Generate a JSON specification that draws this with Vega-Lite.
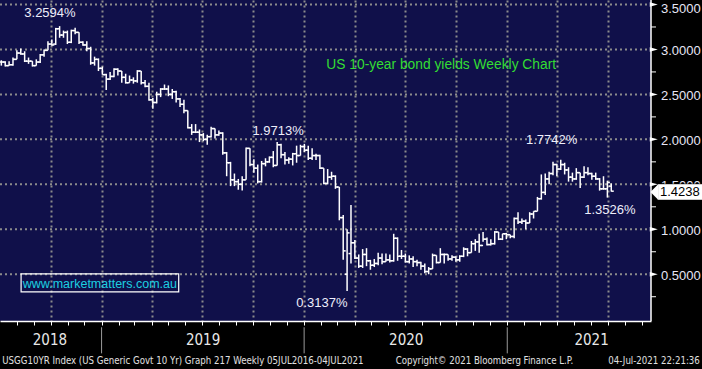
{
"$schema": "https://vega.github.io/schema/vega-lite/v6.json",
"width": 651, "height": 321,
"autosize": {"type": "none"},
"padding": {"left": 0, "top": 0, "right": 51, "bottom": 48},
"background": "#000000",
"view": {"fill": "#10104a", "stroke": null},
"datasets": {
"ohlc": [
{"d":"2018-06-29","o":2.86,"h":2.88,"l":2.82,"c":2.86},
{"d":"2018-07-06","o":2.86,"h":2.87,"l":2.81,"c":2.82},
{"d":"2018-07-13","o":2.82,"h":2.87,"l":2.82,"c":2.83},
{"d":"2018-07-20","o":2.83,"h":2.91,"l":2.82,"c":2.89},
{"d":"2018-07-27","o":2.89,"h":2.99,"l":2.89,"c":2.96},
{"d":"2018-08-03","o":2.96,"h":3.01,"l":2.94,"c":2.95},
{"d":"2018-08-10","o":2.95,"h":2.98,"l":2.86,"c":2.87},
{"d":"2018-08-17","o":2.87,"h":2.91,"l":2.84,"c":2.87},
{"d":"2018-08-24","o":2.87,"h":2.87,"l":2.81,"c":2.82},
{"d":"2018-08-31","o":2.82,"h":2.89,"l":2.82,"c":2.86},
{"d":"2018-09-07","o":2.86,"h":2.95,"l":2.85,"c":2.94},
{"d":"2018-09-14","o":2.94,"h":3.00,"l":2.92,"c":2.99},
{"d":"2018-09-21","o":2.99,"h":3.09,"l":2.99,"c":3.06},
{"d":"2018-09-28","o":3.06,"h":3.11,"l":3.04,"c":3.05},
{"d":"2018-10-05","o":3.06,"h":3.24,"l":3.05,"c":3.23},
{"d":"2018-10-12","o":3.23,"h":3.2594,"l":3.13,"c":3.16},
{"d":"2018-10-19","o":3.16,"h":3.21,"l":3.13,"c":3.19},
{"d":"2018-10-26","o":3.19,"h":3.21,"l":3.06,"c":3.08},
{"d":"2018-11-02","o":3.08,"h":3.22,"l":3.07,"c":3.21},
{"d":"2018-11-09","o":3.21,"h":3.24,"l":3.17,"c":3.19},
{"d":"2018-11-16","o":3.19,"h":3.19,"l":3.06,"c":3.08},
{"d":"2018-11-23","o":3.08,"h":3.09,"l":3.04,"c":3.05},
{"d":"2018-11-30","o":3.05,"h":3.09,"l":2.98,"c":3.01},
{"d":"2018-12-07","o":3.01,"h":3.03,"l":2.83,"c":2.85},
{"d":"2018-12-14","o":2.85,"h":2.92,"l":2.82,"c":2.89},
{"d":"2018-12-21","o":2.89,"h":2.90,"l":2.76,"c":2.79},
{"d":"2018-12-28","o":2.79,"h":2.81,"l":2.72,"c":2.72},
{"d":"2019-01-04","o":2.72,"h":2.73,"l":2.55,"c":2.67},
{"d":"2019-01-11","o":2.67,"h":2.75,"l":2.66,"c":2.70},
{"d":"2019-01-18","o":2.70,"h":2.79,"l":2.69,"c":2.78},
{"d":"2019-01-25","o":2.78,"h":2.79,"l":2.71,"c":2.76},
{"d":"2019-02-01","o":2.76,"h":2.76,"l":2.63,"c":2.69},
{"d":"2019-02-08","o":2.69,"h":2.73,"l":2.62,"c":2.63},
{"d":"2019-02-15","o":2.63,"h":2.71,"l":2.63,"c":2.66},
{"d":"2019-02-22","o":2.66,"h":2.69,"l":2.62,"c":2.65},
{"d":"2019-03-01","o":2.65,"h":2.77,"l":2.63,"c":2.76},
{"d":"2019-03-08","o":2.76,"h":2.76,"l":2.61,"c":2.63},
{"d":"2019-03-15","o":2.63,"h":2.66,"l":2.58,"c":2.59},
{"d":"2019-03-22","o":2.59,"h":2.63,"l":2.43,"c":2.44},
{"d":"2019-03-29","o":2.44,"h":2.46,"l":2.34,"c":2.41},
{"d":"2019-04-05","o":2.41,"h":2.53,"l":2.40,"c":2.50},
{"d":"2019-04-12","o":2.50,"h":2.57,"l":2.47,"c":2.56},
{"d":"2019-04-19","o":2.56,"h":2.61,"l":2.55,"c":2.56},
{"d":"2019-04-26","o":2.56,"h":2.60,"l":2.48,"c":2.50},
{"d":"2019-05-03","o":2.50,"h":2.56,"l":2.45,"c":2.53},
{"d":"2019-05-10","o":2.53,"h":2.54,"l":2.41,"c":2.45},
{"d":"2019-05-17","o":2.45,"h":2.46,"l":2.36,"c":2.39},
{"d":"2019-05-24","o":2.39,"h":2.44,"l":2.29,"c":2.32},
{"d":"2019-05-31","o":2.32,"h":2.32,"l":2.12,"c":2.13},
{"d":"2019-06-07","o":2.13,"h":2.17,"l":2.05,"c":2.08},
{"d":"2019-06-14","o":2.08,"h":2.17,"l":2.07,"c":2.08},
{"d":"2019-06-21","o":2.08,"h":2.11,"l":1.97,"c":2.05},
{"d":"2019-06-28","o":2.05,"h":2.07,"l":1.98,"c":2.00},
{"d":"2019-07-05","o":2.00,"h":2.05,"l":1.94,"c":2.03},
{"d":"2019-07-12","o":2.03,"h":2.14,"l":2.02,"c":2.12},
{"d":"2019-07-19","o":2.12,"h":2.12,"l":2.01,"c":2.05},
{"d":"2019-07-26","o":2.05,"h":2.10,"l":2.04,"c":2.07},
{"d":"2019-08-02","o":2.07,"h":2.08,"l":1.83,"c":1.85},
{"d":"2019-08-09","o":1.85,"h":1.86,"l":1.59,"c":1.74},
{"d":"2019-08-16","o":1.74,"h":1.75,"l":1.48,"c":1.55},
{"d":"2019-08-23","o":1.55,"h":1.62,"l":1.48,"c":1.53},
{"d":"2019-08-30","o":1.53,"h":1.56,"l":1.44,"c":1.50},
{"d":"2019-09-06","o":1.50,"h":1.59,"l":1.43,"c":1.55},
{"d":"2019-09-13","o":1.55,"h":1.91,"l":1.55,"c":1.90},
{"d":"2019-09-20","o":1.90,"h":1.90,"l":1.70,"c":1.72},
{"d":"2019-09-27","o":1.72,"h":1.78,"l":1.63,"c":1.68},
{"d":"2019-10-04","o":1.68,"h":1.72,"l":1.51,"c":1.53},
{"d":"2019-10-11","o":1.53,"h":1.76,"l":1.52,"c":1.73},
{"d":"2019-10-18","o":1.73,"h":1.79,"l":1.70,"c":1.75},
{"d":"2019-10-25","o":1.75,"h":1.81,"l":1.74,"c":1.80},
{"d":"2019-11-01","o":1.80,"h":1.87,"l":1.69,"c":1.71},
{"d":"2019-11-08","o":1.71,"h":1.9713,"l":1.71,"c":1.94},
{"d":"2019-11-15","o":1.94,"h":1.95,"l":1.79,"c":1.83},
{"d":"2019-11-22","o":1.83,"h":1.86,"l":1.72,"c":1.77},
{"d":"2019-11-29","o":1.77,"h":1.80,"l":1.73,"c":1.78},
{"d":"2019-12-06","o":1.78,"h":1.85,"l":1.71,"c":1.84},
{"d":"2019-12-13","o":1.84,"h":1.93,"l":1.74,"c":1.82},
{"d":"2019-12-20","o":1.82,"h":1.94,"l":1.82,"c":1.92},
{"d":"2019-12-27","o":1.92,"h":1.95,"l":1.86,"c":1.88},
{"d":"2020-01-03","o":1.88,"h":1.93,"l":1.77,"c":1.79},
{"d":"2020-01-10","o":1.79,"h":1.90,"l":1.77,"c":1.82},
{"d":"2020-01-17","o":1.82,"h":1.84,"l":1.77,"c":1.82},
{"d":"2020-01-24","o":1.82,"h":1.83,"l":1.67,"c":1.68},
{"d":"2020-01-31","o":1.68,"h":1.68,"l":1.50,"c":1.51},
{"d":"2020-02-07","o":1.51,"h":1.67,"l":1.50,"c":1.58},
{"d":"2020-02-14","o":1.58,"h":1.64,"l":1.55,"c":1.59},
{"d":"2020-02-21","o":1.59,"h":1.60,"l":1.45,"c":1.47},
{"d":"2020-02-28","o":1.47,"h":1.47,"l":1.10,"c":1.13},
{"d":"2020-03-06","o":1.13,"h":1.16,"l":0.66,"c":0.76},
{"d":"2020-03-13","o":0.50,"h":1.00,"l":0.3137,"c":0.96},
{"d":"2020-03-20","o":0.73,"h":1.27,"l":0.62,"c":0.85},
{"d":"2020-03-27","o":0.85,"h":0.88,"l":0.67,"c":0.68},
{"d":"2020-04-03","o":0.68,"h":0.72,"l":0.57,"c":0.59},
{"d":"2020-04-10","o":0.59,"h":0.78,"l":0.57,"c":0.72},
{"d":"2020-04-17","o":0.72,"h":0.79,"l":0.59,"c":0.65},
{"d":"2020-04-24","o":0.65,"h":0.66,"l":0.55,"c":0.60},
{"d":"2020-05-01","o":0.60,"h":0.67,"l":0.58,"c":0.62},
{"d":"2020-05-08","o":0.62,"h":0.74,"l":0.60,"c":0.68},
{"d":"2020-05-15","o":0.68,"h":0.73,"l":0.61,"c":0.64},
{"d":"2020-05-22","o":0.64,"h":0.73,"l":0.64,"c":0.66},
{"d":"2020-05-29","o":0.66,"h":0.72,"l":0.63,"c":0.65},
{"d":"2020-06-05","o":0.65,"h":0.95,"l":0.64,"c":0.90},
{"d":"2020-06-12","o":0.90,"h":0.91,"l":0.65,"c":0.70},
{"d":"2020-06-19","o":0.70,"h":0.77,"l":0.67,"c":0.70},
{"d":"2020-06-26","o":0.70,"h":0.73,"l":0.63,"c":0.64},
{"d":"2020-07-03","o":0.64,"h":0.71,"l":0.62,"c":0.67},
{"d":"2020-07-10","o":0.67,"h":0.70,"l":0.58,"c":0.64},
{"d":"2020-07-17","o":0.64,"h":0.66,"l":0.59,"c":0.63},
{"d":"2020-07-24","o":0.63,"h":0.64,"l":0.55,"c":0.59},
{"d":"2020-07-31","o":0.59,"h":0.62,"l":0.51,"c":0.53},
{"d":"2020-08-07","o":0.53,"h":0.58,"l":0.50,"c":0.56},
{"d":"2020-08-14","o":0.56,"h":0.73,"l":0.56,"c":0.71},
{"d":"2020-08-21","o":0.71,"h":0.71,"l":0.62,"c":0.63},
{"d":"2020-08-28","o":0.63,"h":0.79,"l":0.63,"c":0.72},
{"d":"2020-09-04","o":0.72,"h":0.73,"l":0.62,"c":0.72},
{"d":"2020-09-11","o":0.72,"h":0.72,"l":0.65,"c":0.67},
{"d":"2020-09-18","o":0.67,"h":0.71,"l":0.65,"c":0.69},
{"d":"2020-09-25","o":0.69,"h":0.70,"l":0.64,"c":0.66},
{"d":"2020-10-02","o":0.66,"h":0.71,"l":0.64,"c":0.70},
{"d":"2020-10-09","o":0.70,"h":0.80,"l":0.69,"c":0.78},
{"d":"2020-10-16","o":0.78,"h":0.79,"l":0.70,"c":0.74},
{"d":"2020-10-23","o":0.74,"h":0.87,"l":0.74,"c":0.84},
{"d":"2020-10-30","o":0.84,"h":0.89,"l":0.76,"c":0.86},
{"d":"2020-11-06","o":0.86,"h":0.95,"l":0.74,"c":0.82},
{"d":"2020-11-13","o":0.82,"h":0.97,"l":0.86,"c":0.89},
{"d":"2020-11-20","o":0.89,"h":0.91,"l":0.82,"c":0.83},
{"d":"2020-11-27","o":0.83,"h":0.89,"l":0.82,"c":0.84},
{"d":"2020-12-04","o":0.84,"h":0.98,"l":0.83,"c":0.97},
{"d":"2020-12-11","o":0.97,"h":0.97,"l":0.88,"c":0.89},
{"d":"2020-12-18","o":0.89,"h":0.95,"l":0.88,"c":0.95},
{"d":"2020-12-25","o":0.95,"h":0.96,"l":0.89,"c":0.94},
{"d":"2021-01-01","o":0.94,"h":0.94,"l":0.90,"c":0.92},
{"d":"2021-01-08","o":0.92,"h":1.13,"l":0.90,"c":1.12},
{"d":"2021-01-15","o":1.12,"h":1.19,"l":1.06,"c":1.08},
{"d":"2021-01-22","o":1.08,"h":1.12,"l":1.06,"c":1.09},
{"d":"2021-01-29","o":1.09,"h":1.11,"l":1.00,"c":1.07},
{"d":"2021-02-05","o":1.07,"h":1.19,"l":1.07,"c":1.17},
{"d":"2021-02-12","o":1.17,"h":1.20,"l":1.12,"c":1.20},
{"d":"2021-02-19","o":1.20,"h":1.36,"l":1.20,"c":1.34},
{"d":"2021-02-26","o":1.34,"h":1.61,"l":1.33,"c":1.41},
{"d":"2021-03-05","o":1.41,"h":1.62,"l":1.38,"c":1.56},
{"d":"2021-03-12","o":1.56,"h":1.64,"l":1.50,"c":1.62},
{"d":"2021-03-19","o":1.62,"h":1.75,"l":1.60,"c":1.72},
{"d":"2021-03-26","o":1.72,"h":1.73,"l":1.59,"c":1.67},
{"d":"2021-04-02","o":1.67,"h":1.7742,"l":1.66,"c":1.72},
{"d":"2021-04-09","o":1.72,"h":1.74,"l":1.61,"c":1.66},
{"d":"2021-04-16","o":1.66,"h":1.69,"l":1.53,"c":1.58},
{"d":"2021-04-23","o":1.58,"h":1.63,"l":1.53,"c":1.56},
{"d":"2021-04-30","o":1.56,"h":1.68,"l":1.55,"c":1.63},
{"d":"2021-05-07","o":1.63,"h":1.63,"l":1.46,"c":1.58},
{"d":"2021-05-14","o":1.58,"h":1.70,"l":1.57,"c":1.63},
{"d":"2021-05-21","o":1.63,"h":1.69,"l":1.60,"c":1.62},
{"d":"2021-05-28","o":1.62,"h":1.63,"l":1.55,"c":1.59},
{"d":"2021-06-04","o":1.59,"h":1.63,"l":1.55,"c":1.56},
{"d":"2021-06-11","o":1.56,"h":1.57,"l":1.43,"c":1.45},
{"d":"2021-06-18","o":1.45,"h":1.59,"l":1.44,"c":1.45},
{"d":"2021-06-25","o":1.45,"h":1.54,"l":1.3526,"c":1.52},
{"d":"2021-07-02","o":1.48,"h":1.51,"l":1.42,"c":1.4238}
],
"notes": [
{"d":"2018-09-30","v":3.405,"t":"3.2594%"},
{"d":"2019-11-15","v":2.088,"t":"1.9713%"},
{"d":"2021-03-22","v":1.993,"t":"1.7742%"},
{"d":"2021-07-05","v":1.215,"t":"1.3526%"},
{"d":"2020-02-02","v":0.177,"t":"0.3137%"}
],
"grid": [
{"d":"2018-07-02","d2":"2021-09-17","v":0.5},{"d":"2018-07-02","d2":"2021-09-17","v":1.0},
{"d":"2018-07-02","d2":"2021-09-17","v":1.5},{"d":"2018-07-02","d2":"2021-09-17","v":2.0},
{"d":"2018-07-02","d2":"2021-09-17","v":2.5},{"d":"2018-07-02","d2":"2021-09-17","v":3.0},
{"d":"2018-07-02","d2":"2021-09-17","v":3.5}
],
"majors": [
{"d":"2021-09-22","dl":"2021-10-05","v":0.5},{"d":"2021-09-22","dl":"2021-10-05","v":1.0},
{"d":"2021-09-22","dl":"2021-10-05","v":1.5},{"d":"2021-09-22","dl":"2021-10-05","v":2.0},
{"d":"2021-09-22","dl":"2021-10-05","v":2.5},{"d":"2021-09-22","dl":"2021-10-05","v":3.0},
{"d":"2021-09-22","dl":"2021-10-05","v":3.5}
],
"minors": [
{"d":"2021-09-17","d2":"2021-09-26","v":0.25},{"d":"2021-09-17","d2":"2021-09-26","v":0.75},
{"d":"2021-09-17","d2":"2021-09-26","v":1.25},{"d":"2021-09-17","d2":"2021-09-26","v":1.75},
{"d":"2021-09-17","d2":"2021-09-26","v":2.25},{"d":"2021-09-17","d2":"2021-09-26","v":2.75},
{"d":"2021-09-17","d2":"2021-09-26","v":3.25}
],
"years": [
{"d":"2018-09-30","v":-0.231,"t":"2018"},
{"d":"2019-07-03","v":-0.231,"t":"2019"},
{"d":"2020-07-03","v":-0.231,"t":"2020"},
{"d":"2021-06-02","v":-0.231,"t":"2021"}
],
"seps": [
{"d":"2019-01-01","v":-0.09,"v2":-0.38},
{"d":"2020-01-01","v":-0.09,"v2":-0.38},
{"d":"2021-01-01","v":-0.09,"v2":-0.38}
]
},
"encoding": {
"x": {"field": "d", "type": "temporal",
 "scale": {"domain": ["2018-07-02", "2021-09-17"], "nice": false},
 "axis": {"title": null, "labels": false, "tickCount": {"interval": "month", "step": 1},
  "tickSize": 4, "tickColor": "#ffffff", "tickWidth": 1, "domainColor": "#ffffff", "domainWidth": 1.5,
  "grid": true, "gridColor": "#8c8c8c", "gridDash": [2, 3], "gridWidth": 2,
  "gridOpacity": {"condition": {"test": "month(datum.value) % 3 == 0", "value": 1}, "value": 0}}}
},
"layer": [
{"data": {"name": "grid"},
 "mark": {"type": "rule", "color": "#8c8c8c", "strokeWidth": 2, "strokeDash": [2, 3]},
 "encoding": {"x2": {"field": "d2"},
  "y": {"field": "v", "type": "quantitative", "scale": {"domain": [-0.02, 3.55], "nice": false, "zero": false}, "axis": null}}},
{"data": {"name": "ohlc"},
 "mark": {"type": "rule", "color": "#ffffff", "strokeWidth": 1.5, "xOffset": 3, "clip": true},
 "encoding": {"y": {"field": "h", "type": "quantitative", "axis": null}, "y2": {"field": "l"}}},
{"data": {"name": "ohlc"},
 "mark": {"type": "rule", "color": "#ffffff", "strokeWidth": 1.5, "xOffset": 0.5, "x2Offset": 3, "clip": true},
 "encoding": {"x2": {"field": "d"}, "y": {"field": "o", "type": "quantitative", "axis": null}}},
{"data": {"name": "ohlc"},
 "mark": {"type": "rule", "color": "#ffffff", "strokeWidth": 1.5, "xOffset": 3, "x2Offset": 5.5, "clip": true},
 "encoding": {"x2": {"field": "d"}, "y": {"field": "c", "type": "quantitative", "axis": null}}},
{"data": {"values": [{"d": "2021-09-17", "v": -0.02, "v2": 3.55}]},
 "mark": {"type": "rule", "color": "#ffffff", "strokeWidth": 1.5},
 "encoding": {"y": {"field": "v", "type": "quantitative", "axis": null}, "y2": {"field": "v2"}}},
{"data": {"name": "notes"},
 "mark": {"type": "text", "font": "Liberation Sans", "fontSize": 13, "color": "#eeeefa", "align": "center", "baseline": "middle"},
 "encoding": {"y": {"field": "v", "type": "quantitative", "axis": null}, "text": {"field": "t"}}},
{"data": {"values": [{"d": "2020-09-04", "v": 2.827, "t": "US 10-year bond yields Weekly Chart"}]},
 "mark": {"type": "text", "font": "Liberation Sans", "fontSize": 13.8, "color": "#33dd33", "align": "center", "baseline": "middle"},
 "encoding": {"y": {"field": "v", "type": "quantitative", "axis": null}, "text": {"field": "t"}}},
{"data": {"values": [{"d": "2018-08-09", "d2": "2019-05-20", "v": 0.503, "v2": 0.303}]},
 "mark": {"type": "rect", "fillOpacity": 0, "stroke": "#ffffff", "strokeWidth": 1.2},
 "encoding": {"x2": {"field": "d2"}, "y": {"field": "v", "type": "quantitative", "axis": null}, "y2": {"field": "v2"}}},
{"data": {"values": [{"d": "2018-12-29", "v": 0.397, "t": "www.marketmatters.com.au"}]},
 "mark": {"type": "text", "font": "Liberation Sans", "fontSize": 12.5, "color": "#1ccfe0", "align": "center", "baseline": "middle"},
 "encoding": {"y": {"field": "v", "type": "quantitative", "axis": null}, "text": {"field": "t"}}},
{"data": {"name": "minors"},
 "mark": {"type": "rule", "color": "#ffffff", "strokeWidth": 1},
 "encoding": {"x2": {"field": "d2"}, "y": {"field": "v", "type": "quantitative", "axis": null}}},
{"data": {"name": "majors"},
 "mark": {"type": "point", "shape": "M -1 -0.55 L 1 0 L -1 0.55 Z", "size": 64, "filled": true, "color": "#ffffff", "opacity": 1},
 "encoding": {"y": {"field": "v", "type": "quantitative", "axis": null}}},
{"data": {"name": "majors"},
 "transform": [{"filter": "datum.v < 3.4"}],
 "mark": {"type": "text", "font": "Liberation Sans", "fontSize": 13, "color": "#e6e6f5", "align": "left", "baseline": "middle", "dy": 1.5},
 "encoding": {"x": {"field": "dl", "type": "temporal"}, "y": {"field": "v", "type": "quantitative", "axis": null},
  "text": {"field": "v", "type": "quantitative", "format": ".4f"}}},
{"data": {"name": "majors"},
 "transform": [{"filter": "datum.v > 3.4"}],
 "mark": {"type": "text", "font": "Liberation Sans", "fontSize": 13, "color": "#e6e6f5", "align": "left", "baseline": "middle", "dy": 5},
 "encoding": {"x": {"field": "dl", "type": "temporal"}, "y": {"field": "v", "type": "quantitative", "axis": null},
  "text": {"field": "v", "type": "quantitative", "format": ".4f"}}},
{"data": {"values": [{"d": "2021-09-29", "d2": "2022-01-10", "v": 1.505, "v2": 1.325}]},
 "mark": {"type": "rect", "fill": "#ffffff", "stroke": "#000000", "strokeWidth": 0.5},
 "encoding": {"x2": {"field": "d2"}, "y": {"field": "v", "type": "quantitative", "axis": null}, "y2": {"field": "v2"}}},
{"data": {"values": [{"d": "2021-09-23", "v": 1.415}]},
 "mark": {"type": "point", "shape": "M 0.5 -1 L -0.5 0 L 0.5 1 Z", "size": 240, "filled": true, "color": "#ffffff", "opacity": 1},
 "encoding": {"y": {"field": "v", "type": "quantitative", "axis": null}}},
{"data": {"values": [{"d": "2021-11-08", "v": 1.415, "t": "1.4238"}]},
 "mark": {"type": "text", "font": "Liberation Sans", "fontSize": 13, "color": "#000000", "align": "center", "baseline": "middle"},
 "encoding": {"y": {"field": "v", "type": "quantitative", "axis": null}, "text": {"field": "t"}}},
{"data": {"name": "seps"},
 "mark": {"type": "rule", "color": "#9a9a9a", "strokeWidth": 1},
 "encoding": {"y": {"field": "v", "type": "quantitative", "axis": null}, "y2": {"field": "v2"}}},
{"data": {"name": "years"},
 "mark": {"type": "text", "font": "Liberation Sans Narrow, DejaVu Sans Condensed, Liberation Sans", "fontSize": 15, "color": "#e8e8e8", "align": "center", "baseline": "middle"},
 "encoding": {"y": {"field": "v", "type": "quantitative", "axis": null}, "text": {"field": "t"}}},
{"data": {"values": [{"d": "2018-07-06", "v": -0.465, "t": "USGG10YR Index (US Generic Govt 10 Yr) Graph 217  Weekly 05JUL2016-04JUL2021"}]},
 "mark": {"type": "text", "font": "Liberation Sans Narrow, DejaVu Sans Condensed, Liberation Sans", "fontSize": 9.6, "color": "#e0e0e0", "align": "left", "baseline": "middle"},
 "encoding": {"y": {"field": "v", "type": "quantitative", "axis": null}, "text": {"field": "t"}}},
{"data": {"values": [{"d": "2020-11-21", "v": -0.465, "t": "Copyright© 2021 Bloomberg Finance L.P."}]},
 "mark": {"type": "text", "font": "Liberation Sans Narrow, DejaVu Sans Condensed, Liberation Sans", "fontSize": 9.6, "color": "#e0e0e0", "align": "center", "baseline": "middle"},
 "encoding": {"y": {"field": "v", "type": "quantitative", "axis": null}, "text": {"field": "t"}}},
{"data": {"values": [{"d": "2021-12-14", "v": -0.465, "t": "04-Jul-2021 22:21:36"}]},
 "mark": {"type": "text", "font": "Liberation Sans Narrow, DejaVu Sans Condensed, Liberation Sans", "fontSize": 9.6, "color": "#e0e0e0", "align": "right", "baseline": "middle"},
 "encoding": {"y": {"field": "v", "type": "quantitative", "axis": null}, "text": {"field": "t"}}}
]
}
